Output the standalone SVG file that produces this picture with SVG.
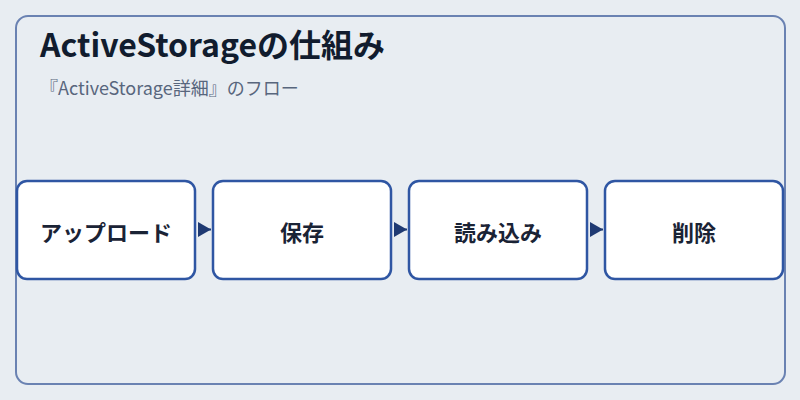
<svg xmlns="http://www.w3.org/2000/svg" width="800" height="400" viewBox="0 0 800 400">
<defs>
<style>
.frame{fill:#e8edf2;stroke:#6a82b2;stroke-width:2}
.node rect{fill:#ffffff;stroke:#2f56a3;stroke-width:2.5}
.node text{font-family:"Noto Sans CJK JP","Noto Sans",sans-serif;font-size:22px;font-weight:bold;fill:#1a2335;text-anchor:middle;dominant-baseline:central}
.title{font-family:"Noto Sans CJK JP","Noto Sans",sans-serif;font-size:32px;font-weight:bold;fill:#111c2e}
.sub{font-family:"Noto Sans CJK JP","Noto Sans",sans-serif;font-size:18px;fill:#58667d}
.conn{stroke:#1f3a73;stroke-width:2;fill:none}
</style>
<marker id="arr" markerWidth="14" markerHeight="16" refX="13" refY="7.5" orient="auto" markerUnits="userSpaceOnUse">
<path d="M0,0 L13,7.5 L0,15 Z" fill="#1f3a73"/>
</marker>
</defs>
<rect x="0" y="0" width="800" height="400" fill="#e8edf2"/>
<rect class="frame" x="16" y="16" width="769" height="368" rx="12"/>
<text class="title" x="40" y="57">ActiveStorageの仕組み</text>
<text class="sub" x="40" y="95">『ActiveStorage詳細』のフロー</text>
<g id="connectors">
<path class="conn" d="M198,229.5 L211,229.5" marker-end="url(#arr)"/>
<path class="conn" d="M394,229.5 L407,229.5" marker-end="url(#arr)"/>
<path class="conn" d="M590,229.5 L603,229.5" marker-end="url(#arr)"/>
</g>
<g id="node-upload" class="node">
<rect x="17" y="181" width="178" height="98" rx="10"/>
<text x="106" y="231">アップロード</text>
</g>
<g id="node-save" class="node">
<rect x="213" y="181" width="178" height="98" rx="10"/>
<text x="302" y="231">保存</text>
</g>
<g id="node-read" class="node">
<rect x="409" y="181" width="178" height="98" rx="10"/>
<text x="498" y="231">読み込み</text>
</g>
<g id="node-delete" class="node">
<rect x="605" y="181" width="178" height="98" rx="10"/>
<text x="694" y="231">削除</text>
</g>
</svg>
